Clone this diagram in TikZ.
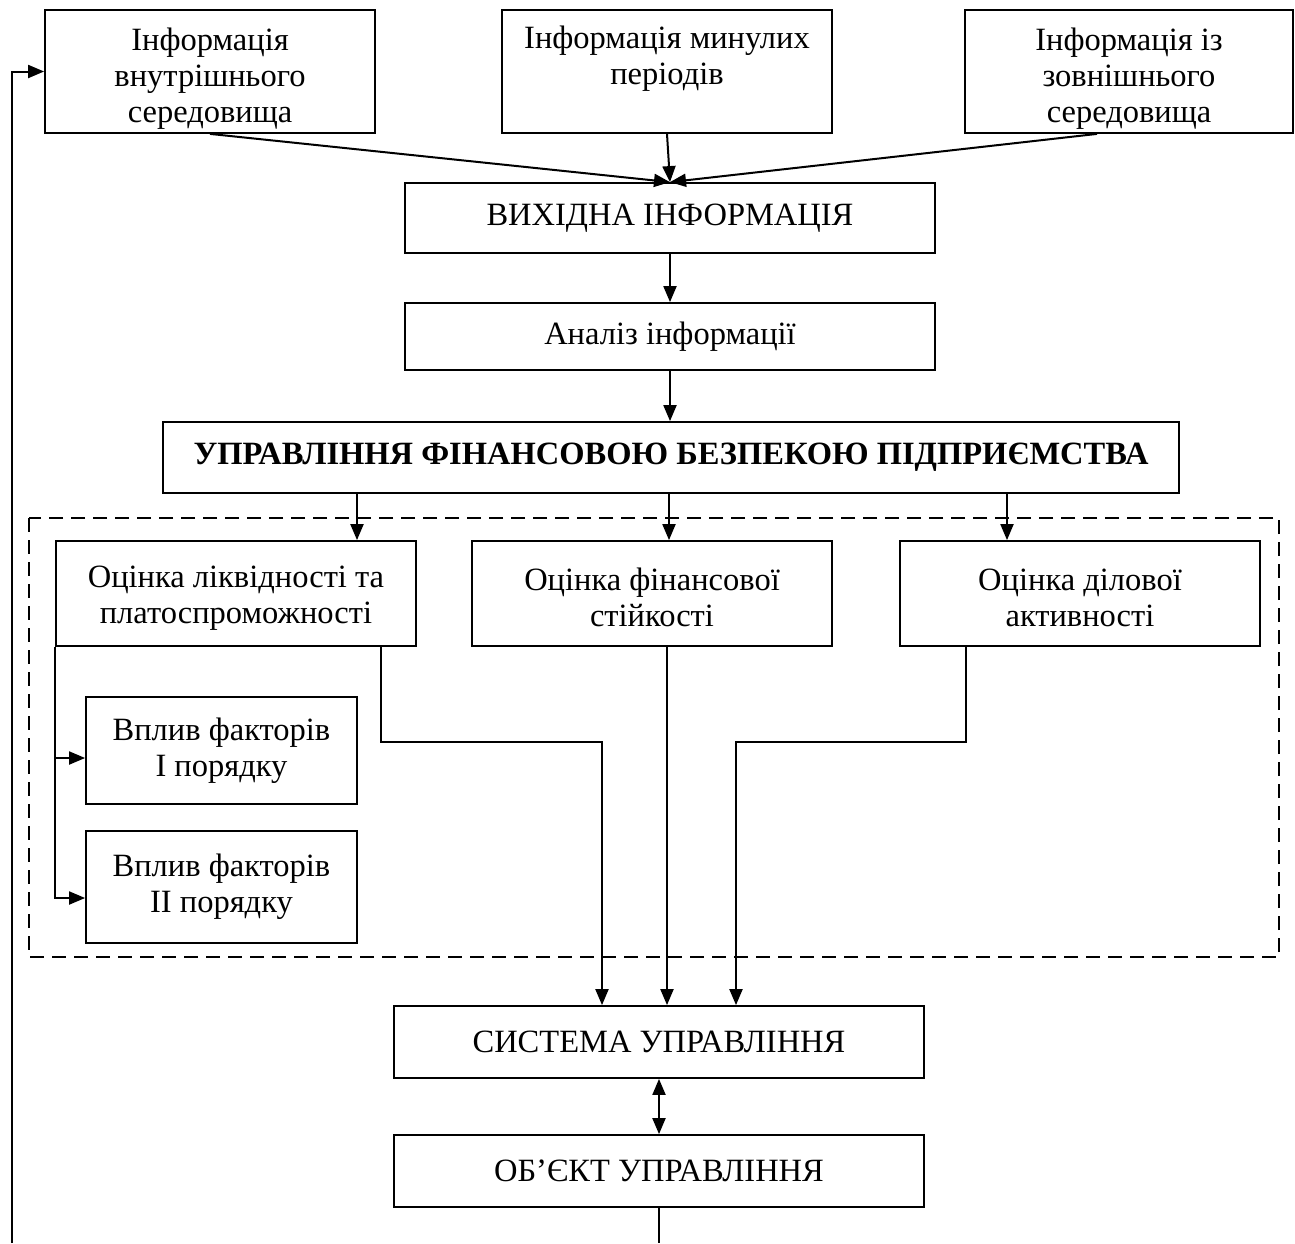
\documentclass[tikz,border=0pt]{standalone}
\usepackage{fontspec}
\setmainfont{Liberation Serif}
\usetikzlibrary{arrows.meta,calc}
\newcommand{\dn}[1]{\rule{0pt}{#1}}
\begin{document}
\begin{tikzpicture}[x=1pt,y=-1pt,
  box/.style={draw,line width=1.8pt,align=center,inner sep=0pt,
    font=\fontsize{32.5}{36}\selectfont},
  conn/.style={line width=2pt},
  arr/.style={line width=2pt,-{Triangle[length=16pt,width=13pt]}},
  arrboth/.style={line width=2pt,{Triangle[length=16pt,width=13pt]}-{Triangle[length=16pt,width=13pt]}},
  frame/.style={draw,line width=1.8pt,dash pattern=on 14pt off 8pt}]
\useasboundingbox (0,0) rectangle (1295,1243);
% top boxes
\node[box,minimum width=330pt,minimum height=123pt] (b1) at (210,71.5) {\dn{36pt}Інформація\\внутрішнього\\середовища};
\node[box,minimum width=330pt,minimum height=123pt] (b2) at (667,71.5) {\dn{36pt}Інформація минулих\\періодів\\\strut};
\node[box,minimum width=328pt,minimum height=123pt] (b3) at (1129,71.5) {\dn{36pt}Інформація із\\зовнішнього\\середовища};
\node[box,minimum width=530pt,minimum height=70pt] (vih) at (670,218) {ВИХІДНА ІНФОРМАЦІЯ};
\node[box,minimum width=530pt,minimum height=67pt] (an) at (670,336.5) {Аналіз інформації};
\node[box,minimum width=1016pt,minimum height=71pt,font=\fontsize{32.5}{36}\selectfont\bfseries] (up) at (671,457.5) {УПРАВЛІННЯ ФІНАНСОВОЮ БЕЗПЕКОЮ ПІДПРИЄМСТВА};
% dashed frame
\draw[frame] (29,518) rectangle (1279,957);
\node[box,minimum width=360pt,minimum height=105pt] (o1) at (236,593.5) {\dn{30pt}Оцінка ліквідності та\\платоспроможності};
\node[box,minimum width=360pt,minimum height=105pt] (o2) at (652,593.5) {\dn{30pt}Оцінка фінансової\\стійкості};
\node[box,minimum width=360pt,minimum height=105pt] (o3) at (1080,593.5) {\dn{30pt}Оцінка ділової\\активності};
\node[box,minimum width=271pt,minimum height=107pt] (v1) at (221.5,750.5) {Вплив факторів\\I порядку};
\node[box,minimum width=271pt,minimum height=112pt] (v2) at (221.5,887) {Вплив факторів\\II порядку};
\node[box,minimum width=530pt,minimum height=72pt] (sys) at (659,1042) {СИСТЕМА УПРАВЛІННЯ};
\node[box,minimum width=530pt,minimum height=72pt] (obj) at (659,1171) {ОБ’ЄКТ УПРАВЛІННЯ};
% helper coordinates
\coordinate (j1) at (602,742);
\coordinate (j3) at (736,742);
\coordinate (bl) at (12,1243);
\coordinate (bm) at (659,1243);
% connectors top
\draw[arr] (b1.south) -- (vih.north);
\draw[arr] (b2.south) -- (vih.north);
\draw[arr] ([xshift=-32pt]b3.south) -- (vih.north);
\draw[arr] (vih.south) -- (an.north);
\draw[arr] (an.south) -- (an.south |- up.north);
\draw[arr] ([xshift=121pt]o1.north |- up.south) -- ([xshift=121pt]o1.north);
\draw[arr] ([xshift=17pt]o2.north |- up.south) -- ([xshift=17pt]o2.north);
\draw[arr] ([xshift=-73pt]o3.north |- up.south) -- ([xshift=-73pt]o3.north);
% factors
\draw[arr] (o1.south west) |- ([yshift=-7.5pt]v1.west);
\draw[arr] (o1.south west) |- ([yshift=-11pt]v2.west);
% to system
\draw[arr] ([xshift=145pt]o1.south) |- (j1) -- (j1 |- sys.north);
\draw[arr] ([xshift=15pt]o2.south) -- ([xshift=15pt]o2.south |- sys.north);
\draw[arr] ([xshift=-114pt]o3.south) |- (j3) -- (j3 |- sys.north);
\draw[arrboth] (sys.south) -- (obj.north);
% feedback
\draw[conn] (obj.south) -- (bm);
\draw[arr] (bl) |- (b1.west);
\end{tikzpicture}
\end{document}
